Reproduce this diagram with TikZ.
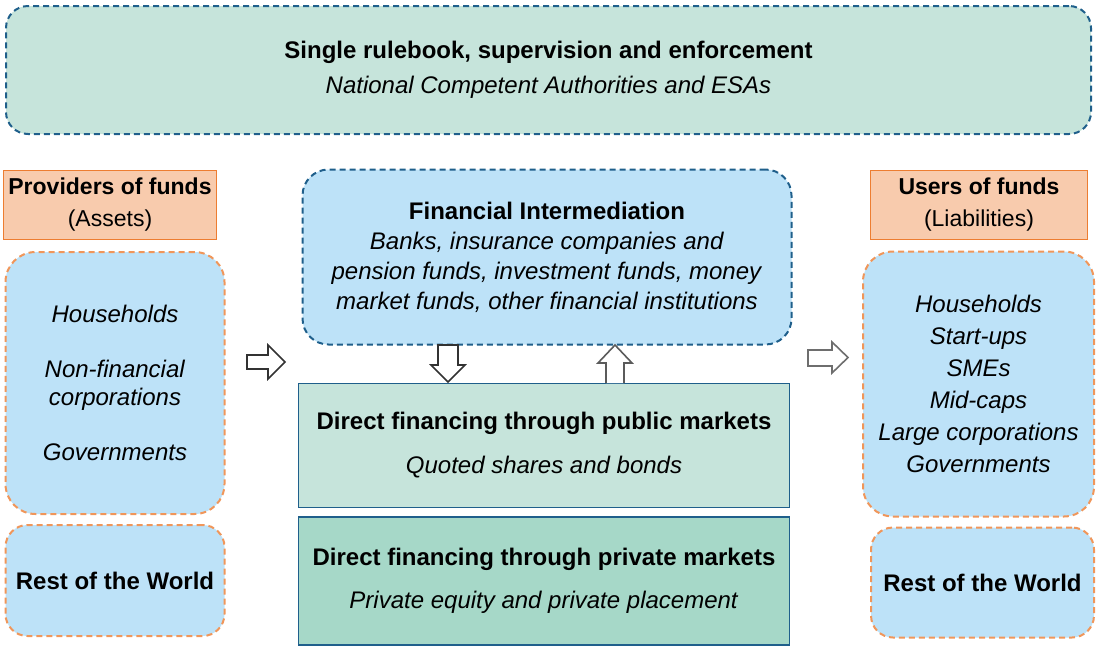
\documentclass[tikz,border=0pt]{standalone}
\usepackage{fontspec}
\setmainfont{Liberation Sans}
\definecolor{tealA}{RGB}{198,228,219}
\definecolor{tealB}{RGB}{166,216,200}
\definecolor{blueF}{RGB}{189,226,248}
\definecolor{blueD}{RGB}{31,95,139}
\definecolor{orF}{RGB}{248,203,173}
\definecolor{orD}{RGB}{237,125,49}
\definecolor{orDash}{RGB}{240,150,90}
\definecolor{arrD}{RGB}{50,50,50}
\definecolor{arrL}{RGB}{110,110,110}
\newcommand{\fs}[1]{\fontsize{24}{#1}\selectfont}
\newcommand{\fh}[1]{\fontsize{23}{#1}\selectfont}
\tikzset{
  base/.style={align=center, inner sep=0pt, text=black},
  bluedash/.style={base, draw=blueD, line width=2pt, dash pattern=on 6pt off 4pt, fill=blueF},
  orangedash/.style={base, draw=orDash, line width=2pt, dash pattern=on 6pt off 4pt, fill=blueF},
  headbox/.style={base, draw=orD, line width=1.5pt, fill=orF},
  marketbox/.style={base, draw=blueD, line width=1.3pt},
  blockarrow/.style={draw=arrD, line width=1.6pt, fill=white, line join=miter},
}
\begin{document}
\begin{tikzpicture}[x=1pt,y=-1pt]
\useasboundingbox (0,0) rectangle (1097,646);

% top box
\node[bluedash, fill=tealA, rounded corners=22pt, minimum width=1085pt, minimum height=128pt, font=\fs{35}] (top) at (548.5,70)
  {\textbf{Single rulebook, supervision and enforcement}\\\textit{National Competent Authorities and ESAs}};

% left column
\node[headbox, minimum width=213pt, minimum height=69pt, font=\fh{32}] (prov) at (110,205)
  {\textbf{Providers of funds}\\(Assets)};
\node[orangedash, rounded corners=30pt, minimum width=219pt, minimum height=262pt, font=\fs{27.5}] (lhh) at (115,383)
  {\textit{Households}\\[27.5pt]\textit{Non-financial}\\\textit{corporations}\\[27.5pt]\textit{Governments}};
\node[orangedash, rounded corners=22pt, minimum width=219pt, minimum height=111pt, font=\fs{28}] (lrow) at (115,580.5)
  {\textbf{Rest of the World}};

% middle column
\node[bluedash, rounded corners=26pt, minimum width=489pt, minimum height=175pt, font=\fs{30}] (fin) at (547,257)
  {\textbf{Financial Intermediation}\\\textit{Banks, insurance companies and}\\\textit{pension funds, investment funds, money}\\\textit{market funds, other financial institutions}};
\node[marketbox, fill=tealA, minimum width=491pt, minimum height=124pt, font=\fs{44}] (pub) at (544,445.5)
  {\textbf{Direct financing through public markets}\\\textit{Quoted shares and bonds}};
\node[marketbox, fill=tealB, minimum width=491pt, minimum height=128pt, font=\fs{43}] (priv) at (544,581)
  {\textbf{Direct financing through private markets}\\\textit{Private equity and private placement}};

% right column
\node[headbox, minimum width=217pt, minimum height=69pt, font=\fh{32}] (users) at (979,205)
  {\textbf{Users of funds}\\(Liabilities)};
\node[orangedash, rounded corners=30pt, minimum width=231pt, minimum height=265pt, font=\fs{32}] (rhh) at (978.5,384)
  {\textit{Households}\\\textit{Start-ups}\\\textit{SMEs}\\\textit{Mid-caps}\\\textit{Large corporations}\\\textit{Governments}};
\node[orangedash, rounded corners=22pt, minimum width=223pt, minimum height=110pt, font=\fs{28}] (rrow) at (982.5,582.5)
  {\textbf{Rest of the World}};

% block arrows
% left (providers -> middle)
\draw[blockarrow] (247,355) -- (268,355) -- (268,345) -- (285,362) -- (268,379) -- (268,369) -- (247,369) -- cycle;
% down (intermediation -> public markets)
\draw[blockarrow] (438,345) -- (458,345) -- (458,365) -- (465,365) -- (448,382) -- (431,365) -- (438,365) -- cycle;
% up (public markets -> intermediation)
\draw[blockarrow, draw=arrD!80] (606,383) -- (606,363) -- (598,363) -- (615,345) -- (632,363) -- (624,363) -- (624,383);
% right (middle -> users)
\draw[blockarrow, draw=arrL] (808,350) -- (832,350) -- (832,342) -- (848,357.5) -- (832,373) -- (832,366) -- (808,366) -- cycle;
\end{tikzpicture}
\end{document}
